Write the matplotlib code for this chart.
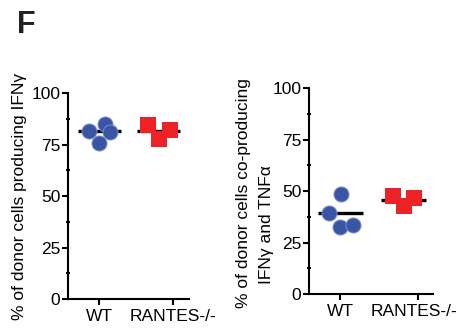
import matplotlib
matplotlib.use('Agg')
import matplotlib.pyplot as plt
from matplotlib.ticker import MultipleLocator
from matplotlib.transforms import ScaledTranslation

plt.rcParams['font.family'] = ['Liberation Sans', 'DejaVu Sans']

groups = ['WT', 'RANTES-/-']

# panel 1: % producing IFNg
ifng_wt = [81.6, 85.0, 81.0, 75.7]
ifng_wt_x = [-0.135, 0.08, 0.15, 0.0]
ifng_ko = [84.5, 82.0, 77.7]
ifng_ko_x = [-0.34, -0.04, -0.19]
ifng_mean = [81.6, 81.6]
ifng_mean_x = [0.0, -0.2]

# panel 2: % co-producing IFNg and TNFa
dp_wt = [48.5, 39.3, 32.5, 33.5]
dp_wt_x = [0.01, -0.14, 0.0, 0.16]
dp_ko = [47.6, 46.6, 42.7]
dp_ko_x = [-0.32, -0.05, -0.18]
dp_mean = [39.3, 45.6]
dp_mean_x = [0.0, -0.19]

blue = '#3b55a5'
red = '#ec2227'


def draw(ax, wt_x, wt, ko_x, ko, mean_x, mean, xlim):
    for i, (mx, m) in enumerate(zip(mean_x, mean)):
        ax.plot([i + mx - 0.29, i + mx + 0.29], [m, m], color='black', lw=2.4,
                zorder=2, solid_capstyle='butt')
    ax.scatter(wt_x, wt, s=117, marker='o', color=blue,
               edgecolors='#7b8fcc', linewidths=0.7, zorder=3)
    ax.scatter([1 + v for v in ko_x], ko, s=117, marker='s', color=red,
               linewidths=0, zorder=3)
    ax.set_xlim(xlim)
    ax.set_ylim(0, 100)
    ax.set_xticks([0, 1])
    ax.set_xticklabels(groups)
    ax.set_yticks([0, 25, 50, 75, 100])
    ax.yaxis.set_minor_locator(MultipleLocator(12.5))
    for s in ['top', 'right']:
        ax.spines[s].set_visible(False)
    for s in ['left', 'bottom']:
        ax.spines[s].set_linewidth(1.5)
    ax.tick_params(axis='both', which='major', labelsize=12.5, width=1.5,
                   length=4, pad=1.5)
    ax.tick_params(axis='y', which='minor', width=1.5, length=3,
                   direction='inout')
    ax.tick_params(axis='x', pad=3)


fig = plt.figure(figsize=(4.57, 3.30), dpi=100)
ax1 = fig.add_axes([0.149, 0.094, 0.265, 0.624])
ax2 = fig.add_axes([0.676, 0.109, 0.271, 0.624])

draw(ax1, ifng_wt_x, ifng_wt, ifng_ko_x, ifng_ko, ifng_mean_x, ifng_mean,
     (-0.42, 1.22))
draw(ax2, dp_wt_x, dp_wt, dp_ko_x, dp_ko, dp_mean_x, dp_mean, (-0.4, 1.19))

# keep the last label inside the canvas
lab = ax2.get_xticklabels()[1]
lab.set_transform(lab.get_transform() + ScaledTranslation(-0.04, 0, fig.dpi_scale_trans))

fig.text(0.042, 0.406, '% of donor cells producing IFNγ', rotation=90,
         ha='center', va='center', fontsize=12.5)
fig.text(0.532, 0.415, '% of donor cells co-producing', rotation=90,
         ha='center', va='center', fontsize=12.5)
fig.text(0.584, 0.321, 'IFNγ and TNFα', rotation=90,
         ha='center', va='center', fontsize=12.5)
fig.text(0.037, 0.9, 'F', fontsize=22, fontweight='bold', color='#222222',
         ha='left', va='baseline')

fig.savefig('out.png', dpi=100)
